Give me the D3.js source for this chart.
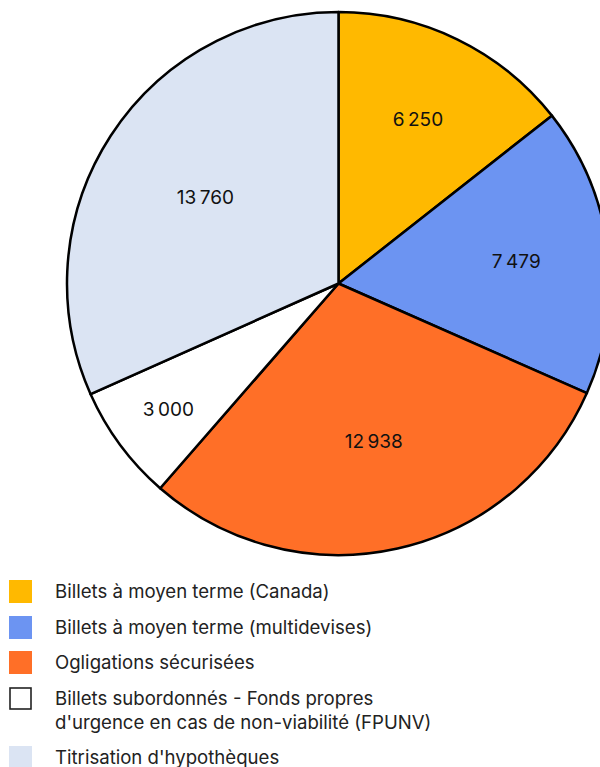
<!DOCTYPE html>
<html>
<head>
<meta charset="utf-8">
<script src="https://cdn.jsdelivr.net/npm/d3@7"></script>
<style>
  body { margin: 0; background: #fff; }
  svg { display: block; }
</style>
</head>
<body>
<script>
// data
const categories = [
  "Billets à moyen terme (Canada)",
  "Billets à moyen terme (multidevises)",
  "Ogligations sécurisées",
  "Billets subordonnés - Fonds propres\nd'urgence en cas de non-viabilité (FPUNV)",
  "Titrisation d'hypothèques"
]
const values = [6250, 7479, 12938, 3000, 13760]
const colors = ["#FFB900", "#6C94F2", "#FF6F27", "#FFFFFF", "#DBE4F3"]

const dimensions = {
  width: 600,
  height: 767,
  cx: 338.5,
  cy: 283.5,
  radius: 271.5
}

const fr = d3.formatLocale({ decimal: ",", thousands: "\u202f", grouping: [3], currency: ["", " $"] })
const fmt = fr.format(",d")

const wrapper = d3.select("body")
  .append("svg")
    .attr("width", dimensions.width)
    .attr("height", dimensions.height)

const bounds = wrapper.append("g")
  .attr("transform", `translate(${dimensions.cx},${dimensions.cy})`)

const data = values.map((v, i) => ({ value: v, name: categories[i], color: colors[i] }))

const pie = d3.pie()
  .value(d => d.value)
  .sort(null)

const arc = d3.arc()
  .innerRadius(0)
  .outerRadius(dimensions.radius)

const arcs = pie(data)

bounds.selectAll("path")
  .data(arcs)
  .join("path")
    .attr("d", arc)
    .attr("fill", d => d.data.color)
    .attr("stroke", "#000")
    .attr("stroke-width", 2.5)
    .attr("stroke-linejoin", "round")

// labels near the sector centroid, pushed out when the slice is too thin
const labels = bounds.selectAll("text.val")
  .data(arcs)
  .join("text")
    .attr("class", "val")
    .attr("text-anchor", "middle")
    .attr("dominant-baseline", "central")
    .style("font-family", "Inter, 'Noto Sans', sans-serif")
    .style("font-size", "19px")
    .style("letter-spacing", "-0.8px")
    .style("fill", "#111")
    .text(d => fmt(d.data.value))

labels.each(function(d) {
  const w = this.getComputedTextLength()
  const a = d.endAngle - d.startAngle
  const mid = (d.startAngle + d.endAngle) / 2
  const rc = 1.04 * 4 * dimensions.radius * Math.sin(a / 2) / (3 * a)
  const rFit = (w + 40) / (2 * Math.sin(a / 2))
  const r = Math.max(rc, rFit)
  d3.select(this)
    .attr("x", r * Math.sin(mid))
    .attr("y", -r * Math.cos(mid))
})

// legend
const legend = wrapper.append("g")
  .attr("transform", "translate(9,580)")

const rowY = [0, 36, 71, 107, 166]

const rows = legend.selectAll("g")
  .data(data)
  .join("g")
    .attr("transform", (d, i) => `translate(0,${rowY[i]})`)

rows.append("rect")
  .attr("x", d => d.color === "#FFFFFF" ? 1 : 0)
  .attr("y", d => d.color === "#FFFFFF" ? 1 : 0)
  .attr("width", d => d.color === "#FFFFFF" ? 21 : 23)
  .attr("height", d => d.color === "#FFFFFF" ? 21 : 23)
  .attr("fill", d => d.color)
  .attr("stroke", d => d.color === "#FFFFFF" ? "#222" : "none")
  .attr("stroke-width", 1.6)

rows.append("text")
  .attr("x", 46)
  .attr("y", 18)
  .style("font-family", "Inter, 'Noto Sans', sans-serif")
  .style("font-size", "18.6px")
  .style("fill", "#222")
  .selectAll("tspan")
  .data(d => d.name.split("\n"))
  .join("tspan")
    .attr("x", 46)
    .attr("dy", (d, i) => i === 0 ? 0 : 23.5)
    .text(d => d)
</script>
</body>
</html>
